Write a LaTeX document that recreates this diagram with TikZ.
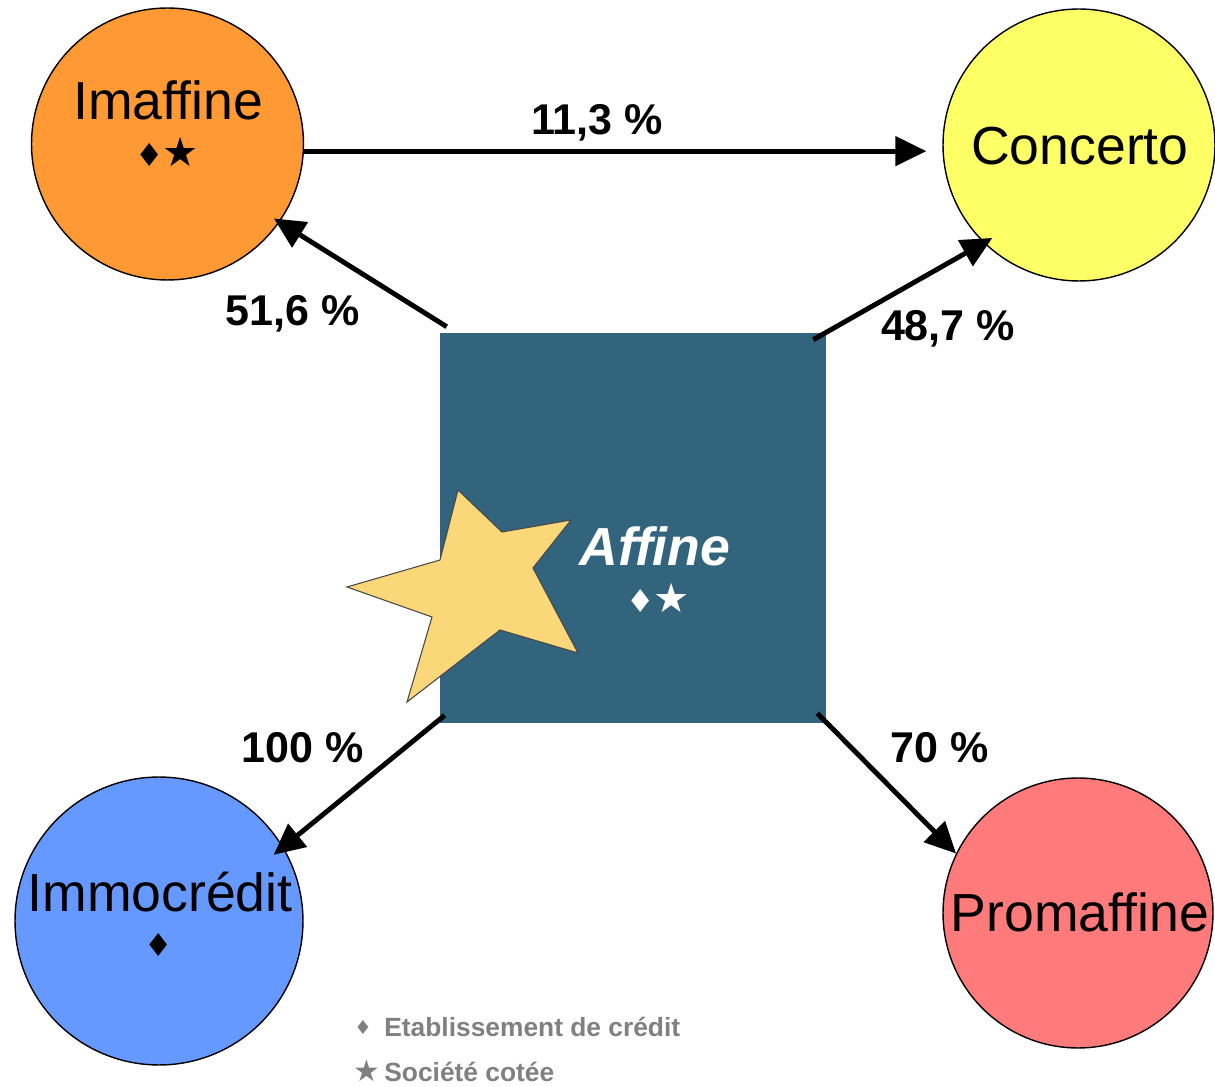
\documentclass[tikz,border=0pt]{standalone}
\usepackage{fontspec}
\setmainfont{Liberation Sans}
\newfontfamily\symfont{DejaVu Sans}
\usetikzlibrary{arrows.meta,calc}
\definecolor{orangeC}{RGB}{255,153,51}
\definecolor{yellowC}{RGB}{255,255,102}
\definecolor{blueC}{RGB}{102,153,255}
\definecolor{pinkC}{RGB}{255,122,122}
\definecolor{squareC}{RGB}{50,100,126}
\definecolor{starC}{RGB}{250,216,122}
\definecolor{starLine}{RGB}{70,70,70}
\definecolor{legendC}{RGB}{128,128,128}
\newcommand{\bigstarsym}{{\fontsize{23}{24}\selectfont\kern-1pt★}}
\begin{document}
\begin{tikzpicture}[x=0.02cm,y=-0.02cm,
 entity/.style={circle,draw=black,line width=0.8pt,inner sep=0pt},
 cname/.style={font=\fontsize{30.5}{36}\selectfont,inner sep=0pt,anchor=base},
 syms/.style={font=\symfont\fontsize{18}{20}\selectfont,inner sep=0pt,anchor=base},
 pct/.style={font=\bfseries\fontsize{24.5}{28}\selectfont,inner sep=0pt,anchor=base},
 link/.style={line width=2.8pt,-{Triangle[length=0.62cm,width=0.58cm]}},
 legend/.style={font=\bfseries\fontsize{15}{18}\selectfont,text=legendC,inner sep=0pt,anchor=base west}]
\useasboundingbox (0,0) rectangle (1215,1087);

% central square
\node[fill=squareC,minimum width=7.72cm,minimum height=7.8cm,inner sep=0pt] (aff) at (633,528) {};
\fill[starC,draw=starLine,line width=0.6pt,line join=miter]
  (458,490) -- (502,532) -- (571,520) -- (533,568) -- (578,653) -- (500,630)
  -- (407,702) -- (432,617) -- (347,587) -- (440,560) -- cycle;
\node[cname,font=\bfseries\itshape\fontsize{30.5}{36}\selectfont,text=white] (afft) at (655,566) {Affine};
\node[syms,text=white] (affs) at (658,613) {♦\bigstarsym};

% entities
\node[entity,fill=orangeC,minimum size=5.44cm] (ima) at (167.5,144) {};
\node[entity,fill=yellowC,minimum size=5.44cm] (con) at (1079,145) {};
\node[entity,fill=blueC,minimum size=5.76cm] (imm) at (159,921) {};
\node[entity,fill=pinkC,minimum size=5.4cm] (pro) at (1078,913) {};

\node[cname] (imat) at (168,120) {Imaffine};
\node[syms] (imas) at (167,167) {♦\bigstarsym};
\node[cname] (cont) at (1080,165) {Concerto};
\node[cname] (immt) at (160,912) {Immocrédit};
\node[syms] (imms) at (159,957) {♦};
\node[cname] (prot) at (1080,932) {Promaffine};

% links
\draw[link,shorten >=0.32cm] (ima.-3) -- (ima.-3 -| con.west);
\draw[link] ($(aff.north west)+(7,-6)$) -- ($(ima.center)!0.95!(ima.325)$);
\draw[link] ($(aff.north east)+(-13,7)$) -- ($(con.center)!0.93!(con.227)$);
\draw[link] ($(aff.south west)+(5,-8)$) -- ($(imm.center)!0.915!(imm.30)$);
\draw[link] ($(aff.south east)+(-9,-10)$) -- (pro.154);

% percentages
\node[pct] (p1) at (597,135) {11,3 \%};
\node[pct] (p2) at (293,326) {51,6 \%};
\node[pct] (p3) at (948,341) {48,7 \%};
\node[pct] (p4) at (303,763) {100 \%};
\node[pct] (p5) at (940,763) {70 \%};

% legend
\node[inner sep=0pt,text=legendC,font=\symfont\fontsize{11}{13}\selectfont,anchor=base] (l1s) at (363,1034) {♦};
\node[legend] (l1) at (384,1036) {Etablissement de crédit};
\node[inner sep=0pt,text=legendC,font=\symfont\fontsize{17}{18}\selectfont,anchor=base] (l2s) at (367,1081) {★};
\node[legend] (l2) at (384,1081) {Société cotée};
\end{tikzpicture}
\end{document}
